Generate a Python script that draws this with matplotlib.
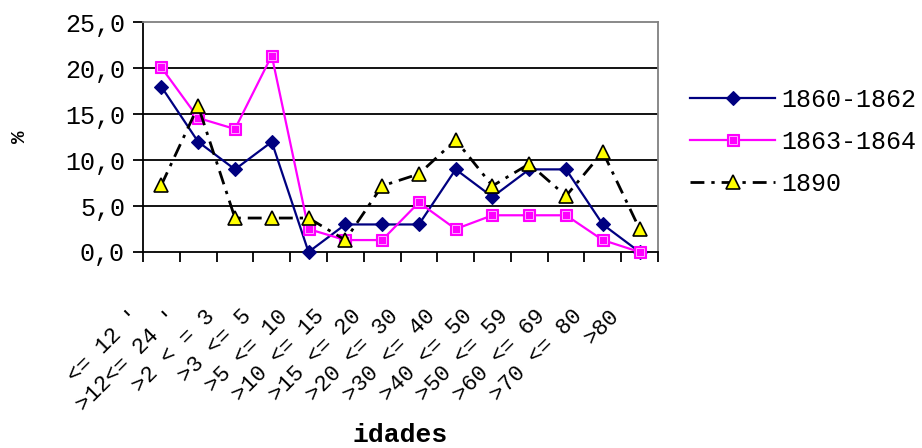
import matplotlib
matplotlib.use("Agg")
import matplotlib.pyplot as plt
from matplotlib.legend_handler import HandlerTuple
from matplotlib.ticker import FixedLocator, NullFormatter

# Age groups
categories = ["<= 12 '", ">12<= 24 '", ">2 < = 3", ">3 <= 5", ">5 <= 10",
              ">10 <= 15", ">15 <= 20", ">20 <= 30", ">30 <= 40", ">40 <= 50",
              ">50 <= 59", ">60 <= 69", ">70 <= 80", ">80"]

# Percentage of deaths per age group
s_1860_1862 = [18.0, 12.0, 9.0, 12.0, 0.0, 3.0, 3.0, 3.0, 9.0, 6.0, 9.0, 9.0, 3.0, 0.0]
s_1863_1864 = [20.1, 14.6, 13.4, 21.4, 2.5, 1.3, 1.3, 5.4, 2.5, 4.0, 4.0, 4.0, 1.3, 0.0]
s_1890 = [7.3, 15.9, 3.7, 3.7, 3.7, 1.3, 7.2, 8.5, 12.2, 7.2, 9.6, 6.1, 10.9, 2.5]

series_labels = ["1860-1862", "1863-1864", "1890"]
yticks = [0, 5, 10, 15, 20, 25]
ytick_labels = ["0,0", "5,0", "10,0", "15,0", "20,0", "25,0"]

W, H = 922, 448
fig = plt.figure(figsize=(W / 100, H / 100), dpi=100)
ax = fig.add_axes([143 / W, 1 - 252 / H, 515 / W, (252 - 22.5) / H])

mono = "Liberation Mono"
x = list(range(len(categories)))

navy = "#000080"
magenta = "#ff00ff"

l1, = ax.plot(x, s_1860_1862, color=navy, lw=1.6, marker="D", ms=7.6,
              mfc=navy, mec=navy, mew=0.8, zorder=4, clip_on=False)
l2, = ax.plot(x, s_1863_1864, color=magenta, lw=1.6, marker="s", ms=8.4,
              mfc=magenta, mec=magenta, mew=0.8, zorder=5, clip_on=False)
l2i, = ax.plot(x, s_1863_1864, ls="none", marker="s", ms=5.6,
               mfc=magenta, mec="#ffa8ff", mew=0.7, zorder=5, clip_on=False)
l3, = ax.plot(x, s_1890, color="black", lw=2.0, ls=(0, (5, 2.5, 1.2, 2.5)),
              marker="^", ms=10.5, mfc="#ffff00", mec="black", mew=1.2,
              zorder=6, clip_on=False)

ax.set_xlim(-0.5, len(categories) - 0.5)
ax.set_ylim(0, 25)

# Horizontal gridlines
for v in yticks[1:-1]:
    ax.axhline(v, color="black", lw=1.3, zorder=1)

for side in ("top", "right"):
    ax.spines[side].set_color("#808080")
    ax.spines[side].set_linewidth(1.3)
for side in ("left", "bottom"):
    ax.spines[side].set_color("black")
    ax.spines[side].set_linewidth(1.3)

ax.set_yticks(yticks)
ax.set_yticklabels(ytick_labels, fontfamily=mono, fontsize=18)
ax.tick_params(axis="y", direction="out", length=7, width=1.3, pad=6)

# Category ticks sit on the boundaries between groups
ax.set_xticks([])
ax.xaxis.set_minor_locator(FixedLocator([i - 0.5 for i in range(len(categories) + 1)]))
ax.xaxis.set_minor_formatter(NullFormatter())
ax.tick_params(axis="x", which="minor", direction="out", length=7, width=1.3)

for i, lab in enumerate(categories):
    ax.annotate(lab, xy=(i, 0), xycoords=("data", "axes fraction"),
                xytext=(-17, -44), textcoords="offset points",
                rotation=45, rotation_mode="anchor", ha="right", va="center",
                fontfamily=mono, fontsize=16, annotation_clip=False)

fig.text(19 / W, 1 - 137 / H, "%", rotation=90, ha="center", va="center",
         fontfamily=mono, fontweight="bold", fontsize=15)
fig.text(400 / W, 1 - 435 / H, "idades", ha="center", va="center",
         fontfamily=mono, fontweight="bold", fontsize=19)

fig.legend([l1, (l2, l2i), l3], series_labels,
           handler_map={tuple: HandlerTuple(ndivide=1)},
           loc="upper left", bbox_to_anchor=(690 / W, 1 - 88 / H),
           frameon=False, borderpad=0, borderaxespad=0,
           handlelength=3.4, handletextpad=0.25, labelspacing=0.72,
           prop={"family": mono, "size": 18})

fig.savefig("out.png", dpi=100)
